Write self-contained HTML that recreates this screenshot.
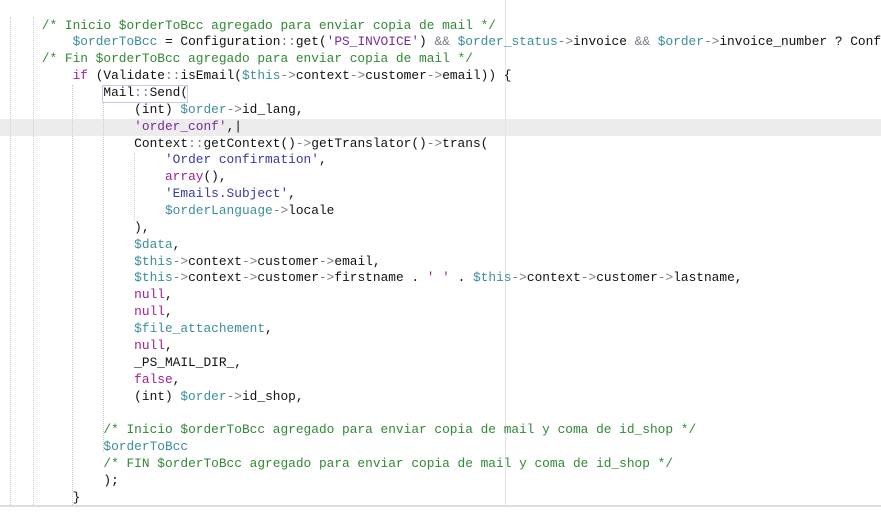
<!DOCTYPE html>
<html><head><meta charset="utf-8"><style>
html,body{margin:0;padding:0;background:#fff;width:881px;height:513px;overflow:hidden;position:relative}
.l{position:absolute;left:11px;font-family:"Liberation Mono",monospace;font-size:12.83px;line-height:17px;height:17px;white-space:pre;color:#111}
.c{color:#2f8a33}.v{color:#3a8e9c}.s{color:#3838a8}.k{color:#a0208f}.p{color:#7a2a9a}.o{color:#7a7a8a}
.hl{position:absolute;left:0;top:119px;width:881px;height:17px;background:#ececec}
.g{position:absolute;width:0;border-left:1px dotted #ccc}
</style></head><body>
<div class="hl"></div>
<div style="position:absolute;left:505px;top:0;width:1px;height:505px;background:#e4e4e4"></div>
<div style="position:absolute;left:0;top:505px;width:881px;height:2px;background:#ddd"></div>
<div class="g" style="left:10px;top:17px;height:488px"></div>
<div class="g" style="left:33px;top:17px;height:488px"></div>
<div class="g" style="left:72px;top:85px;height:420px"></div>
<div class="g" style="left:103px;top:102px;height:350px"></div>
<div class="g" style="left:134px;top:153px;height:68px"></div>
<div style="position:absolute;left:102px;top:85px;width:84px;height:16px;border:1px solid #c8c8e8"></div>
<div class="l" style="top:16.5px">    <span class="c">/* Inicio $orderToBcc agregado para enviar copia de mail */</span></div>
<div class="l" style="top:33.4px">        <span class="v">$orderToBcc</span> = Configuration<span class="o">::</span>get(<span class="p">'PS_INVOICE'</span>) <span class="o">&amp;&amp;</span> <span class="v">$order_status</span><span class="o">-&gt;</span>invoice <span class="o">&amp;&amp;</span> <span class="v">$order</span><span class="o">-&gt;</span>invoice_number ? Conf</div>
<div class="l" style="top:50.2px">    <span class="c">/* Fin $orderToBcc agregado para enviar copia de mail */</span></div>
<div class="l" style="top:67.1px">        <span class="k">if</span> (Validate<span class="o">::</span>isEmail(<span class="v">$this</span><span class="o">-&gt;</span>context<span class="o">-&gt;</span>customer<span class="o">-&gt;</span>email)) {</div>
<div class="l" style="top:84px">            Mail<span class="o">::</span>Send(</div>
<div class="l" style="top:100.8px">                (int) <span class="v">$order</span><span class="o">-&gt;</span>id_lang,</div>
<div class="l" style="top:117.7px">                <span class="p">'order_conf'</span>,|</div>
<div class="l" style="top:134.6px">                Context<span class="o">::</span>getContext()<span class="o">-&gt;</span>getTranslator()<span class="o">-&gt;</span>trans(</div>
<div class="l" style="top:151.4px">                    <span class="s">'Order confirmation'</span>,</div>
<div class="l" style="top:168.3px">                    <span class="k">array</span>(),</div>
<div class="l" style="top:185.1px">                    <span class="s">'Emails.Subject'</span>,</div>
<div class="l" style="top:202px">                    <span class="v">$orderLanguage</span><span class="o">-&gt;</span>locale</div>
<div class="l" style="top:218.9px">                ),</div>
<div class="l" style="top:235.7px">                <span class="v">$data</span>,</div>
<div class="l" style="top:252.6px">                <span class="v">$this</span><span class="o">-&gt;</span>context<span class="o">-&gt;</span>customer<span class="o">-&gt;</span>email,</div>
<div class="l" style="top:269.4px">                <span class="v">$this</span><span class="o">-&gt;</span>context<span class="o">-&gt;</span>customer<span class="o">-&gt;</span>firstname . <span class="k">' '</span> . <span class="v">$this</span><span class="o">-&gt;</span>context<span class="o">-&gt;</span>customer<span class="o">-&gt;</span>lastname,</div>
<div class="l" style="top:286.3px">                <span class="k">null</span>,</div>
<div class="l" style="top:303.2px">                <span class="k">null</span>,</div>
<div class="l" style="top:320px">                <span class="v">$file_attachement</span>,</div>
<div class="l" style="top:336.9px">                <span class="k">null</span>,</div>
<div class="l" style="top:353.7px">                _PS_MAIL_DIR_,</div>
<div class="l" style="top:370.6px">                <span class="k">false</span>,</div>
<div class="l" style="top:387.5px">                (int) <span class="v">$order</span><span class="o">-&gt;</span>id_shop,</div>
<div class="l" style="top:421.2px">            <span class="c">/* Inicio $orderToBcc agregado para enviar copia de mail y coma de id_shop */</span></div>
<div class="l" style="top:438px">            <span class="v">$orderToBcc</span></div>
<div class="l" style="top:454.9px">            <span class="c">/* FIN $orderToBcc agregado para enviar copia de mail y coma de id_shop */</span></div>
<div class="l" style="top:471.8px">            );</div>
<div class="l" style="top:488.6px">        }</div>
</body></html>
